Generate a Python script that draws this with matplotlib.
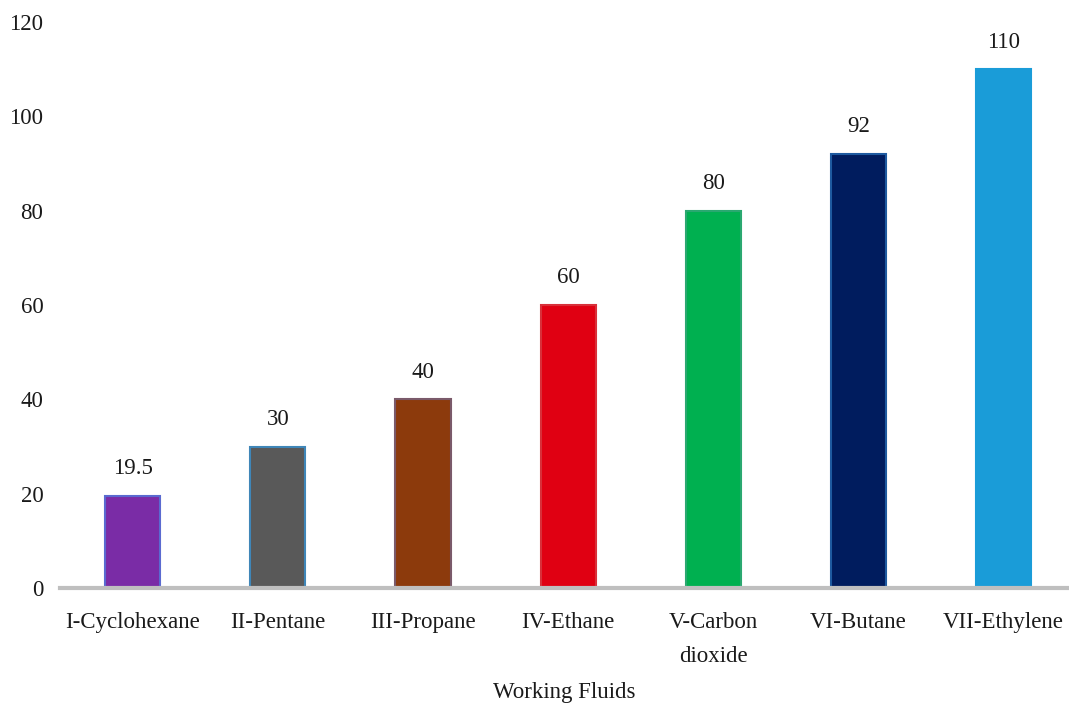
import matplotlib.pyplot as plt

fluids = ['I-Cyclohexane', 'II-Pentane', 'III-Propane', 'IV-Ethane',
          'V-Carbon\ndioxide', 'VI-Butane', 'VII-Ethylene']
values = [19.5, 30, 40, 60, 80, 92, 110]
value_labels = ['19.5', '30', '40', '60', '80', '92', '110']
bar_colors = ['#7a2ca6', '#595959', '#8c3a0c', '#e00012',
              '#00b050', '#001c5e', '#1a9cd8']
edge_colors = ['#5a6ad0', '#3f86b8', '#7a5a6a', '#d8303a',
               '#2aa870', '#1e5aa0', '#1a9cd8']

plt.rcParams['font.family'] = ['Liberation Serif', 'DejaVu Serif']

fig = plt.figure(figsize=(10.69, 7.07), dpi=100)
ax = fig.add_axes([60 / 1069, 119 / 707, 1009 / 1069, 566 / 707])

x = range(len(fluids))
bars = ax.bar(x, values, width=0.38, color=bar_colors,
              edgecolor=edge_colors, linewidth=1.5, zorder=2)

for rect, lab in zip(bars, value_labels):
    ax.annotate(lab, (rect.get_x() + rect.get_width() / 2, rect.get_height()),
                xytext=(0, 12), textcoords='offset points',
                ha='center', va='bottom', fontsize=16.5, color='#1a1a1a')

ax.set_xlim(-0.5, 6.45)
ax.set_ylim(0, 120)
ax.set_yticks([0, 20, 40, 60, 80, 100, 120])
ax.set_xticks(list(x))
ax.set_xticklabels(fluids, fontsize=16.5, color='#1a1a1a', linespacing=1.85)
ax.tick_params(axis='y', length=0, pad=12, labelsize=16.5, labelcolor='#1a1a1a')
ax.tick_params(axis='x', length=0, pad=17)

for side in ['top', 'right', 'left']:
    ax.spines[side].set_visible(False)
ax.spines['bottom'].set_color('#bfbfbf')
ax.spines['bottom'].set_linewidth(3)
ax.spines['bottom'].set_zorder(3)

ax.set_xlabel('Working Fluids', fontsize=16.5, color='#1a1a1a', labelpad=11)

fig.savefig('out.png', dpi=100)
